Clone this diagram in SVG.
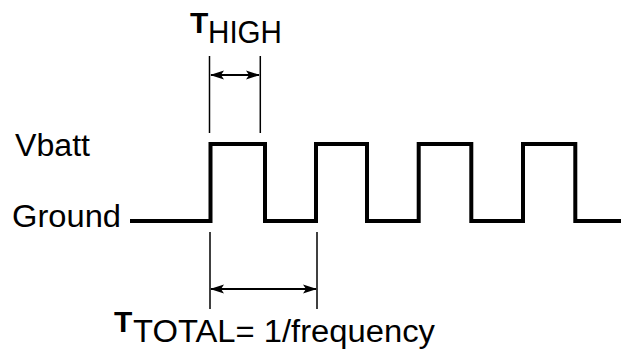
<svg xmlns="http://www.w3.org/2000/svg" width="621" height="350" viewBox="0 0 621 350">
  <style>
    text { font-family: "Liberation Sans", Arial, Helvetica, sans-serif; fill: #000; }
    .lbl { font-size: 31px; }
    .big { font-size: 30px; font-weight: bold; }
    .wave { fill: none; stroke: #000; stroke-width: 4; stroke-linejoin: miter; stroke-linecap: butt; }
    .tick { stroke: #000; stroke-width: 1.5; }
    .dim { stroke: #000; stroke-width: 2; marker-start: url(#ah); marker-end: url(#ah); }
  </style>
  <defs>
    <marker id="ah" viewBox="0 0 14 10" refX="13" refY="5" markerWidth="14" markerHeight="10" markerUnits="userSpaceOnUse" orient="auto-start-reverse">
      <path d="M0,0.5 L14,5 L0,9.5 L3,5 Z" fill="#000"/>
    </marker>
  </defs>
  <rect width="621" height="350" fill="#fff"/>

  <g id="labels">
    <text class="lbl" x="15" y="156" textLength="75" lengthAdjust="spacingAndGlyphs">Vbatt</text>
    <text class="lbl" x="12" y="227" textLength="109" lengthAdjust="spacingAndGlyphs">Ground</text>
  </g>

  <g id="waveform">
    <path class="wave" d="M130,221 H210.5 V144 H265 V221 H316 V144 H367 V221 H418.7 V144 H471.3 V221 H523 V144 H575.3 V221 H621"/>
  </g>

  <g id="connectors">
    <line class="tick" x1="209.5" y1="56" x2="209.5" y2="133"/>
    <line class="tick" x1="260.3" y1="56" x2="260.3" y2="133"/>
    <line class="dim" x1="211" y1="75" x2="259" y2="75"/>
    <line class="tick" x1="210" y1="232" x2="210" y2="309"/>
    <line class="tick" x1="317" y1="232" x2="317" y2="309"/>
    <line class="dim" x1="211" y1="289" x2="316" y2="289"/>
  </g>

  <g id="t-high">
    <text class="big" x="190" y="33">T</text>
    <text class="lbl" x="208" y="43" textLength="74" lengthAdjust="spacingAndGlyphs">HIGH</text>
  </g>

  <g id="t-total">
    <text class="big" x="114" y="332">T</text>
    <text class="lbl" x="133" y="342" textLength="302" lengthAdjust="spacingAndGlyphs">TOTAL= 1/frequency</text>
  </g>
</svg>
